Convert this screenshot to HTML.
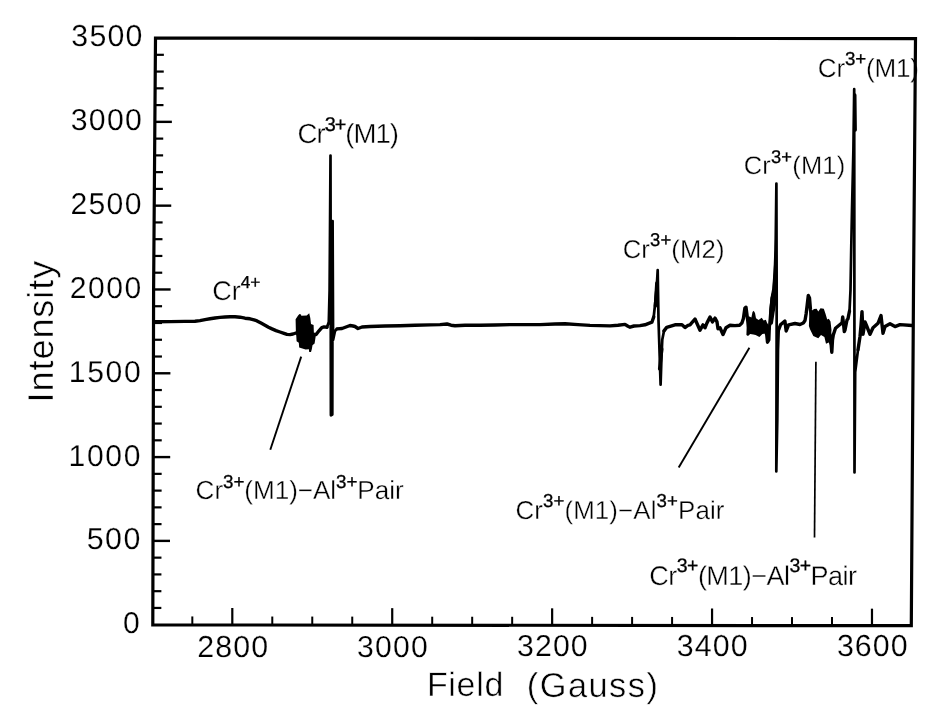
<!DOCTYPE html><html><head><meta charset="utf-8"><title>EPR spectrum</title>
<style>html,body{margin:0;padding:0;background:#fff;}svg{display:block;}text{font-family:"Liberation Sans",Arial,sans-serif;text-rendering:geometricPrecision;fill:#000;}</style></head><body>
<svg width="942" height="722" viewBox="0 0 942 722">
<rect width="942" height="722" fill="#fff"/>
<g class="txt"><text id="y0" x="139.79" y="633.44" font-size="30.08" text-anchor="end" style="stroke:#fff;stroke-width:0.2px">0</text>
<text id="y500" x="142.05" y="549.16" font-size="30.39" letter-spacing="1.57" text-anchor="end" style="stroke:#fff;stroke-width:0.2px">500</text>
<text id="y1000" x="142.09" y="465.56" font-size="30.09" letter-spacing="1.67" text-anchor="end" style="stroke:#fff;stroke-width:0.2px">1000</text>
<text id="y1500" x="142.52" y="381.85" font-size="30.14" letter-spacing="1.70" text-anchor="end" style="stroke:#fff;stroke-width:0.2px">1500</text>
<text id="y2000" x="142.68" y="298.33" font-size="30.11" letter-spacing="1.47" text-anchor="end" style="stroke:#fff;stroke-width:0.2px">2000</text>
<text id="y2500" x="142.78" y="213.74" font-size="30.17" letter-spacing="1.32" text-anchor="end" style="stroke:#fff;stroke-width:0.2px">2500</text>
<text id="y3000" x="143.24" y="130.01" font-size="30.25" letter-spacing="1.31" text-anchor="end" style="stroke:#fff;stroke-width:0.2px">3000</text>
<text id="y3500" x="143.64" y="46.43" font-size="30.30" letter-spacing="1.23" text-anchor="end" style="stroke:#fff;stroke-width:0.2px">3500</text>
<text id="x2800" x="233.15" y="656.55" font-size="30.36" letter-spacing="1.10" text-anchor="middle" style="stroke:#fff;stroke-width:0.2px">2800</text>
<text id="x3000" x="393.02" y="656.58" font-size="30.18" letter-spacing="1.23" text-anchor="middle" style="stroke:#fff;stroke-width:0.2px">3000</text>
<text id="x3200" x="552.91" y="655.78" font-size="30.28" letter-spacing="1.12" text-anchor="middle" style="stroke:#fff;stroke-width:0.2px">3200</text>
<text id="x3400" x="712.79" y="655.82" font-size="30.40" letter-spacing="1.06" text-anchor="middle" style="stroke:#fff;stroke-width:0.2px">3400</text>
<text id="x3600" x="872.77" y="655.82" font-size="30.41" letter-spacing="1.03" text-anchor="middle" style="stroke:#fff;stroke-width:0.2px">3600</text>
<text id="ylab" transform="translate(53.16,402.40) rotate(-90)" font-size="36.04" letter-spacing="0.92" style="stroke:#fff;stroke-width:0.5px">Intensity</text>
<text id="xlab1" x="426.92" y="696.38" font-size="33.99" letter-spacing="0.70" style="stroke:#fff;stroke-width:0.5px">Field</text>
<text id="xlab2" x="526.77" y="697.39" font-size="34.40" letter-spacing="1.47" style="stroke:#fff;stroke-width:0.5px">(Gauss)</text>
<text id="cr4" x="212.34" y="299.55" font-size="27.05" letter-spacing="-0.06" style="stroke:#fff;stroke-width:0.35px">Cr<tspan font-size="17.31" dy="-11.90" style="stroke:#000;stroke-width:0.3px">4+</tspan></text>
<text id="m1a" x="297.51" y="142.99" font-size="27.57" letter-spacing="-0.98" style="stroke:#fff;stroke-width:0.35px">Cr<tspan font-size="19.85" dy="-12.41" style="stroke:#000;stroke-width:0.3px">3+</tspan><tspan dy="12.41">(M1)</tspan></text>
<text id="m2" x="622.65" y="257.55" font-size="25.66" letter-spacing="0.13" style="stroke:#fff;stroke-width:0.35px">Cr<tspan font-size="18.48" dy="-11.55" style="stroke:#000;stroke-width:0.3px">3+</tspan><tspan dy="11.55">(M2)</tspan></text>
<text id="m1b" x="743.72" y="174.43" font-size="25.49" letter-spacing="0.18" style="stroke:#fff;stroke-width:0.35px">Cr<tspan font-size="18.35" dy="-11.47" style="stroke:#000;stroke-width:0.3px">3+</tspan><tspan dy="11.47">(M1)</tspan></text>
<text id="m1c" x="817.72" y="76.95" font-size="26.08" letter-spacing="-0.17" style="stroke:#fff;stroke-width:0.35px">Cr<tspan font-size="18.78" dy="-11.74" style="stroke:#000;stroke-width:0.3px">3+</tspan><tspan dy="11.74">(M1)</tspan></text>
<text id="p1" x="195.62" y="499.26" font-size="26.11" letter-spacing="-0.06" style="stroke:#fff;stroke-width:0.35px">Cr<tspan font-size="18.80" dy="-11.75" style="stroke:#000;stroke-width:0.3px">3+</tspan><tspan dy="11.75">(M1)−Al</tspan><tspan font-size="18.80" dy="-11.75" style="stroke:#000;stroke-width:0.3px">3+</tspan><tspan dy="11.75">Pair</tspan></text>
<text id="p2" x="515.43" y="518.92" font-size="25.92" letter-spacing="0.10" style="stroke:#fff;stroke-width:0.35px">Cr<tspan font-size="18.66" dy="-11.66" style="stroke:#000;stroke-width:0.3px">3+</tspan><tspan dy="11.66">(M1)−Al</tspan><tspan font-size="18.66" dy="-11.66" style="stroke:#000;stroke-width:0.3px">3+</tspan><tspan dy="11.66">Pair</tspan></text>
<text id="p3" x="649.34" y="584.55" font-size="27.05" letter-spacing="-0.55" style="stroke:#fff;stroke-width:0.35px">Cr<tspan font-size="19.47" dy="-12.17" style="stroke:#000;stroke-width:0.3px">3+</tspan><tspan dy="12.17">(M1)−Al</tspan><tspan font-size="19.47" dy="-12.17" style="stroke:#000;stroke-width:0.3px">3+</tspan><tspan dy="12.17">Pair</tspan></text></g>
<polygon points="152.80,624.90 153.60,290.00 155.50,38.05 915.50,38.60 913.50,290.00 911.30,625.70" fill="none" stroke="#000" stroke-width="3.2" stroke-linejoin="miter"/>
<line x1="152.84" y1="607.94" x2="161.34" y2="607.94" stroke="#000" stroke-width="2.2"/>
<line x1="152.88" y1="591.18" x2="161.38" y2="591.18" stroke="#000" stroke-width="2.2"/>
<line x1="152.92" y1="574.42" x2="161.42" y2="574.42" stroke="#000" stroke-width="2.2"/>
<line x1="152.96" y1="557.65" x2="161.46" y2="557.65" stroke="#000" stroke-width="2.2"/>
<line x1="153.00" y1="540.89" x2="170.00" y2="540.89" stroke="#000" stroke-width="2.4"/>
<line x1="153.04" y1="524.13" x2="161.54" y2="524.13" stroke="#000" stroke-width="2.2"/>
<line x1="153.08" y1="507.37" x2="161.58" y2="507.37" stroke="#000" stroke-width="2.2"/>
<line x1="153.12" y1="490.61" x2="161.62" y2="490.61" stroke="#000" stroke-width="2.2"/>
<line x1="153.16" y1="473.85" x2="161.66" y2="473.85" stroke="#000" stroke-width="2.2"/>
<line x1="153.20" y1="457.09" x2="170.20" y2="457.09" stroke="#000" stroke-width="2.4"/>
<line x1="153.24" y1="440.32" x2="161.74" y2="440.32" stroke="#000" stroke-width="2.2"/>
<line x1="153.28" y1="423.56" x2="161.78" y2="423.56" stroke="#000" stroke-width="2.2"/>
<line x1="153.32" y1="406.80" x2="161.82" y2="406.80" stroke="#000" stroke-width="2.2"/>
<line x1="153.36" y1="390.04" x2="161.86" y2="390.04" stroke="#000" stroke-width="2.2"/>
<line x1="153.40" y1="373.28" x2="170.40" y2="373.28" stroke="#000" stroke-width="2.4"/>
<line x1="153.44" y1="356.52" x2="161.94" y2="356.52" stroke="#000" stroke-width="2.2"/>
<line x1="153.48" y1="339.76" x2="161.98" y2="339.76" stroke="#000" stroke-width="2.2"/>
<line x1="153.52" y1="322.99" x2="162.02" y2="322.99" stroke="#000" stroke-width="2.2"/>
<line x1="153.56" y1="306.23" x2="162.06" y2="306.23" stroke="#000" stroke-width="2.2"/>
<line x1="153.60" y1="289.47" x2="170.60" y2="289.47" stroke="#000" stroke-width="2.4"/>
<line x1="153.73" y1="272.71" x2="162.23" y2="272.71" stroke="#000" stroke-width="2.2"/>
<line x1="153.86" y1="255.95" x2="162.36" y2="255.95" stroke="#000" stroke-width="2.2"/>
<line x1="153.98" y1="239.19" x2="162.48" y2="239.19" stroke="#000" stroke-width="2.2"/>
<line x1="154.11" y1="222.43" x2="162.61" y2="222.43" stroke="#000" stroke-width="2.2"/>
<line x1="154.24" y1="205.66" x2="171.24" y2="205.66" stroke="#000" stroke-width="2.4"/>
<line x1="154.36" y1="188.90" x2="162.86" y2="188.90" stroke="#000" stroke-width="2.2"/>
<line x1="154.49" y1="172.14" x2="162.99" y2="172.14" stroke="#000" stroke-width="2.2"/>
<line x1="154.62" y1="155.38" x2="163.12" y2="155.38" stroke="#000" stroke-width="2.2"/>
<line x1="154.74" y1="138.62" x2="163.24" y2="138.62" stroke="#000" stroke-width="2.2"/>
<line x1="154.87" y1="121.86" x2="171.87" y2="121.86" stroke="#000" stroke-width="2.4"/>
<line x1="154.99" y1="105.10" x2="163.49" y2="105.10" stroke="#000" stroke-width="2.2"/>
<line x1="155.12" y1="88.33" x2="163.62" y2="88.33" stroke="#000" stroke-width="2.2"/>
<line x1="155.25" y1="71.57" x2="163.75" y2="71.57" stroke="#000" stroke-width="2.2"/>
<line x1="155.37" y1="54.81" x2="163.87" y2="54.81" stroke="#000" stroke-width="2.2"/>
<line x1="192.32" y1="624.94" x2="192.32" y2="616.44" stroke="#000" stroke-width="2.0"/>
<line x1="232.30" y1="624.98" x2="232.30" y2="607.98" stroke="#000" stroke-width="2.2"/>
<line x1="272.28" y1="625.03" x2="272.28" y2="616.53" stroke="#000" stroke-width="2.0"/>
<line x1="312.26" y1="625.07" x2="312.26" y2="616.57" stroke="#000" stroke-width="2.0"/>
<line x1="352.24" y1="625.11" x2="352.24" y2="616.61" stroke="#000" stroke-width="2.0"/>
<line x1="392.22" y1="625.15" x2="392.22" y2="608.15" stroke="#000" stroke-width="2.2"/>
<line x1="432.20" y1="625.19" x2="432.20" y2="616.69" stroke="#000" stroke-width="2.0"/>
<line x1="472.18" y1="625.24" x2="472.18" y2="616.74" stroke="#000" stroke-width="2.0"/>
<line x1="512.16" y1="625.28" x2="512.16" y2="616.78" stroke="#000" stroke-width="2.0"/>
<line x1="552.14" y1="625.32" x2="552.14" y2="608.32" stroke="#000" stroke-width="2.2"/>
<line x1="592.12" y1="625.36" x2="592.12" y2="616.86" stroke="#000" stroke-width="2.0"/>
<line x1="632.10" y1="625.41" x2="632.10" y2="616.91" stroke="#000" stroke-width="2.0"/>
<line x1="672.08" y1="625.45" x2="672.08" y2="616.95" stroke="#000" stroke-width="2.0"/>
<line x1="712.06" y1="625.49" x2="712.06" y2="608.49" stroke="#000" stroke-width="2.2"/>
<line x1="752.04" y1="625.53" x2="752.04" y2="617.03" stroke="#000" stroke-width="2.0"/>
<line x1="792.02" y1="625.57" x2="792.02" y2="617.07" stroke="#000" stroke-width="2.0"/>
<line x1="832.00" y1="625.62" x2="832.00" y2="617.12" stroke="#000" stroke-width="2.0"/>
<line x1="871.98" y1="625.66" x2="871.98" y2="608.66" stroke="#000" stroke-width="2.2"/>
<line x1="301.2" y1="356.6" x2="270.3" y2="449.7" stroke="#000" stroke-width="1.9"/>
<line x1="749.4" y1="347.7" x2="678.7" y2="467.6" stroke="#000" stroke-width="1.9"/>
<line x1="815.9" y1="361.8" x2="814.5" y2="537.5" stroke="#000" stroke-width="1.7"/>
<path d="M154.5,321.8 L170.0,321.6 L185.0,321.4 L195.0,321.2 L200.0,320.6 L205.0,319.6 L210.0,318.8 L215.0,318.0 L220.0,317.4 L225.0,317.0 L230.0,316.8 L235.0,316.8 L240.0,317.2 L245.0,318.2 L250.0,318.8 L254.0,319.8 L257.0,320.9 L261.0,323.0 L265.0,325.2 L268.5,327.2 L272.0,328.9 L276.0,330.6 L280.0,332.0 L284.0,333.4 L287.0,334.4 L290.0,334.6 L293.0,334.0 L296.0,333.0 L300.0,333.0 L310.0,333.0 L314.0,334.5 L316.1,334.5 L319.0,330.8 L321.8,327.6 L324.0,326.9 L327.0,327.3" fill="none" stroke="#000" stroke-width="3.4" stroke-linejoin="round" stroke-linecap="round"/>
<path d="M327.0,327.3 L328.8,322.0 L329.6,290.0 L330.5,155.5 L330.9,415.3 L332.3,414.5 L332.6,221.0 L333.1,340.0 L335.0,331.0 L337.0,328.9" fill="none" stroke="#000" stroke-width="2.7" stroke-linejoin="round" stroke-linecap="round"/>
<path d="M337.0,328.9 L342.0,328.5 L346.0,327.0 L350.0,325.5 L353.0,326.0 L355.0,326.5 L358.0,328.5 L362.0,327.0 L370.0,326.5 L385.0,326.0 L400.0,325.7 L415.0,325.3 L430.0,324.9 L440.0,324.6 L447.0,324.0 L451.0,325.2 L455.0,325.7 L465.0,325.3 L480.0,325.3 L495.0,325.0 L510.0,324.6 L525.0,324.6 L540.0,324.6 L555.0,324.0 L565.0,323.7 L578.0,324.6 L590.0,325.4 L600.0,325.6 L610.0,325.9 L618.0,325.3 L625.0,324.4 L628.0,326.3 L630.0,327.2 L634.0,326.0 L640.0,325.6 L645.0,324.8 L651.9,322.2 L653.7,317.0" fill="none" stroke="#000" stroke-width="3.4" stroke-linejoin="round" stroke-linecap="round"/>
<path d="M653.7,317.0 L655.0,304.9 L656.3,291.0 L657.1,280.6 L657.7,270.2 L658.5,320.0 L660.6,384.6 L661.5,356.9 L662.3,339.5 L664.0,330.9" fill="none" stroke="#000" stroke-width="2.7" stroke-linejoin="round" stroke-linecap="round"/>
<path d="M664.0,330.9 L666.7,327.4 L675.0,324.8 L682.0,324.8 L685.0,327.5 L688.0,325.4 L690.0,324.9 L695.0,319.0 L700.0,330.2 L703.0,324.9 L705.0,327.8 L707.0,322.9 L710.0,317.1 L712.5,321.9 L715.0,318.1 L717.0,321.9 L718.0,328.7 L720.0,327.8 L723.0,334.5 L726.0,327.8 L730.0,325.3 L735.0,325.6 L739.6,325.2 L741.9,323.1 L743.4,318.4 L744.9,308.0 L746.0,307.2 L747.2,316.5 L749.0,330.0 L752.0,322.0 L755.0,330.0 L758.0,324.0 L761.0,331.0 L764.0,324.0 L766.8,335.0 L767.5,342.2 L768.8,340.0 L769.3,327.0" fill="none" stroke="#000" stroke-width="3.4" stroke-linejoin="round" stroke-linecap="round"/>
<path d="M769.3,327.0 L770.6,310.0 L771.8,298.0 L773.5,289.0 L774.8,272.0 L775.6,250.0 L776.4,183.5 L776.7,300.0 L776.3,471.5 L777.3,420.0 L778.0,350.0 L778.7,329.7" fill="none" stroke="#000" stroke-width="2.7" stroke-linejoin="round" stroke-linecap="round"/>
<path d="M778.7,329.7 L780.5,324.8 L784.9,321.0 L786.2,331.0 L788.6,324.8 L795.0,323.5 L800.0,324.5 L803.3,323.0 L805.0,320.5 L806.1,314.0 L807.2,305.0 L808.3,295.5 L809.5,298.0 L810.5,310.0 L814.0,330.0 L818.0,318.0 L822.0,330.0 L826.0,322.0 L829.5,333.0 L830.5,338.0 L831.2,345.0 L831.8,352.2 L832.5,340.0 L833.3,334.9 L835.5,328.2 L838.8,325.5 L842.1,322.7 L842.7,317.0 L843.5,323.8 L844.3,331.6 L845.0,330.0 L847.0,320.0 L848.0,318.7 L849.5,311.0" fill="none" stroke="#000" stroke-width="3.4" stroke-linejoin="round" stroke-linecap="round"/>
<path d="M849.5,311.0 L850.5,290.0 L851.2,250.0 L852.0,210.0 L853.4,150.0 L854.2,89.2 L854.4,300.0 L854.5,472.5 L855.2,372.0 L858.0,349.8" fill="none" stroke="#000" stroke-width="2.7" stroke-linejoin="round" stroke-linecap="round"/>
<path d="M858.0,349.8 L860.0,336.5 L861.0,325.5 L862.0,311.6 L863.0,334.3 L865.0,322.0 L866.5,325.5 L870.0,334.3 L873.0,327.7 L878.0,323.3 L881.0,315.5 L883.0,333.2 L885.0,326.6 L890.0,323.8 L895.0,326.6 L900.0,324.6 L912.0,325.5" fill="none" stroke="#000" stroke-width="3.4" stroke-linejoin="round" stroke-linecap="round"/>
<path d="M655.4,306.0 L656.8,283.0" fill="none" stroke="#000" stroke-width="3.4" stroke-linejoin="round" stroke-linecap="round"/>
<path d="M659.6,369.0 L661.8,349.0" fill="none" stroke="#000" stroke-width="3.4" stroke-linejoin="round" stroke-linecap="round"/>
<path d="M771.3,323.0 L772.8,313.0 L774.2,305.0 L775.8,301.0" fill="none" stroke="#000" stroke-width="3.4" stroke-linejoin="round" stroke-linecap="round"/>
<path d="M854.8,95.0 L855.2,130.0" fill="none" stroke="#000" stroke-width="3.4" stroke-linejoin="round" stroke-linecap="round"/>
<polygon points="295.6,319.3 298.1,315.4 299.5,313.9 301.0,314.6 301.3,315.7 306.7,315.4 309.2,313.2 310.3,317.9 311.0,324.0 313.6,325.1 313.9,333.4 315.7,336.2 314.6,343.4 312.5,345.2 311.8,349.2 311.0,352.1 309.2,352.1 308.9,349.2 305.6,349.6 302.4,348.5 299.2,347.4 298.8,342.7 296.6,341.3 296.3,336.2 295.9,332.6" fill="#000"/>
<polygon points="768.7,327.5 769.3,309.8 770.6,297.4 772.5,291.1 773.1,280.0 774.3,260.0 775.3,230.0 776.5,230.0 776.5,302.0 775.0,302.3 773.7,304.8 772.5,314.8 771.3,325.0 770.5,330.0" fill="#000"/>
<polygon points="747.0,317.0 749.5,316.5 751.4,317.5 752.5,312.0 753.7,310.8 755.0,313.0 756.0,318.2 758.6,320.0 761.7,317.8 763.6,320.5 765.9,319.7 767.0,322.8 768.5,325.0 768.5,334.0 765.5,333.5 762.4,334.0 759.4,337.0 755.6,335.0 753.3,334.4 750.2,334.0 748.0,335.9 746.4,335.0" fill="#000"/>
<polygon points="809.5,308.0 812.2,310.5 814.0,309.0 816.6,308.8 818.3,311.6 820.5,308.3 823.8,308.8 825.5,313.8 827.2,319.4 828.8,318.8 830.5,321.6 831.5,330.0 830.0,345.0 828.8,342.6 826.0,343.8 824.4,337.1 821.0,334.9 818.3,338.2 815.5,337.1 813.3,336.0 810.0,329.3 808.9,326.0" fill="#000"/>
</svg></body></html>
